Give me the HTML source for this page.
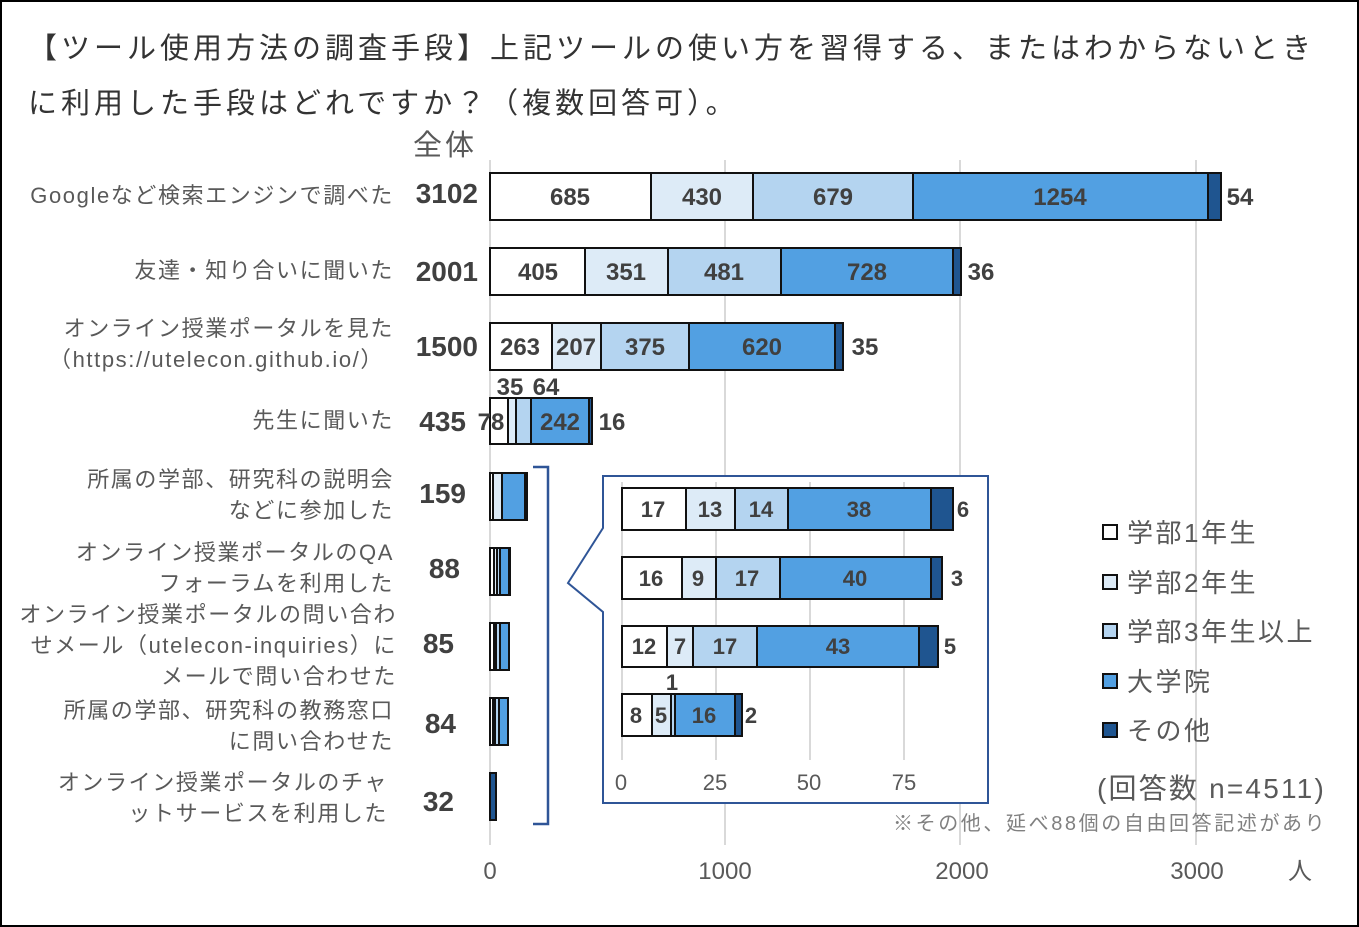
<!DOCTYPE html>
<html><head><meta charset="utf-8"><style>
html,body{margin:0;padding:0;background:#fff}
svg{display:block}
text{font-family:"Liberation Sans","Noto Sans CJK JP",sans-serif}
.t{font-size:29px;fill:#333;letter-spacing:4px}
.l{font-size:22px;fill:#595959;text-anchor:end;letter-spacing:1.6px}
.tot{font-size:28px;fill:#404040;text-anchor:end;font-weight:600}
.v{font-size:24px;fill:#404040;text-anchor:middle;font-weight:bold}
.iv{font-size:22px;fill:#404040;text-anchor:middle;font-weight:bold}
.ax{font-size:24px;fill:#595959;text-anchor:middle}
.lg{font-size:26px;fill:#595959;letter-spacing:2.5px}
rect.b{stroke:#111;stroke-width:2}
</style></head><body>
<svg width="1359" height="927" viewBox="0 0 1359 927">
<rect x="1" y="1" width="1357" height="925" fill="#fff" stroke="#000" stroke-width="2"/>
<text class="t" x="28" y="58">【ツール使用方法の調査手段】上記ツールの使い方を習得する、またはわからないとき</text>
<text class="t" x="28" y="113">に利用した手段はどれですか？（複数回答可）。</text>
<text x="413" y="155" style="font-size:29px;fill:#595959;letter-spacing:3px">全体</text>
<g stroke="#d9d9d9" stroke-width="2">
<line x1="490" y1="160" x2="490" y2="845"/><line x1="725" y1="160" x2="725" y2="845"/>
<line x1="960" y1="160" x2="960" y2="845"/><line x1="1196" y1="160" x2="1196" y2="845"/>
</g>
<text class="l" x="394" y="203">Googleなど検索エンジンで調べた</text>
<text class="l" x="394" y="278">友達・知り合いに聞いた</text>
<text class="l" x="394" y="336">オンライン授業ポータルを見た</text>
<text class="l" x="384" y="367">（https://utelecon.github.io/）</text>
<text class="l" x="394" y="428">先生に聞いた</text>
<text class="l" x="394" y="487">所属の学部、研究科の説明会</text>
<text class="l" x="394" y="518">などに参加した</text>
<text class="l" x="394" y="560">オンライン授業ポータルのQA</text>
<text class="l" x="394" y="591">フォーラムを利用した</text>
<text class="l" x="397" y="622">オンライン授業ポータルの問い合わ</text>
<text class="l" x="397" y="653">せメール（utelecon-inquiries）に</text>
<text class="l" x="397" y="684">メールで問い合わせた</text>
<text class="l" x="394" y="718">所属の学部、研究科の教務窓口</text>
<text class="l" x="394" y="749">に問い合わせた</text>
<text class="l" x="388" y="790">オンライン授業ポータルのチャ</text>
<text class="l" x="388" y="821">ットサービスを利用した</text>
<text class="tot" x="478" y="203">3102</text>
<text class="tot" x="478" y="281">2001</text>
<text class="tot" x="478" y="356">1500</text>
<text class="tot" x="466" y="431">435</text>
<text class="tot" x="466" y="503">159</text>
<text class="tot" x="460" y="578">88</text>
<text class="tot" x="454" y="653">85</text>
<text class="tot" x="456" y="733">84</text>
<text class="tot" x="454" y="811">32</text>
<g>
<rect class="b" x="490" y="173" width="161" height="47" fill="#fff"/>
<rect class="b" x="651" y="173" width="102" height="47" fill="#ddebf7"/>
<rect class="b" x="753" y="173" width="160" height="47" fill="#b4d4f0"/>
<rect class="b" x="913" y="173" width="295" height="47" fill="#52a0e2"/>
<rect class="b" x="1208" y="173" width="13" height="47" fill="#1f5590"/>
<text class="v" x="570" y="205">685</text><text class="v" x="702" y="205">430</text><text class="v" x="833" y="205">679</text><text class="v" x="1060" y="205">1254</text><text class="v" x="1240" y="205">54</text>

<rect class="b" x="490" y="248" width="95" height="47" fill="#fff"/>
<rect class="b" x="585" y="248" width="83" height="47" fill="#ddebf7"/>
<rect class="b" x="668" y="248" width="113" height="47" fill="#b4d4f0"/>
<rect class="b" x="781" y="248" width="172" height="47" fill="#52a0e2"/>
<rect class="b" x="953" y="248" width="8" height="47" fill="#1f5590"/>
<text class="v" x="538" y="280">405</text><text class="v" x="626" y="280">351</text><text class="v" x="724" y="280">481</text><text class="v" x="867" y="280">728</text><text class="v" x="981" y="280">36</text>

<rect class="b" x="490" y="323" width="62" height="47" fill="#fff"/>
<rect class="b" x="552" y="323" width="49" height="47" fill="#ddebf7"/>
<rect class="b" x="601" y="323" width="88" height="47" fill="#b4d4f0"/>
<rect class="b" x="689" y="323" width="146" height="47" fill="#52a0e2"/>
<rect class="b" x="835" y="323" width="8" height="47" fill="#1f5590"/>
<text class="v" x="520" y="355">263</text><text class="v" x="576" y="355">207</text><text class="v" x="645" y="355">375</text><text class="v" x="762" y="355">620</text><text class="v" x="865" y="355">35</text>

<rect class="b" x="490" y="398" width="18" height="46" fill="#fff"/>
<rect class="b" x="508" y="398" width="8" height="46" fill="#ddebf7"/>
<rect class="b" x="516" y="398" width="15" height="46" fill="#b4d4f0"/>
<rect class="b" x="531" y="398" width="58" height="46" fill="#52a0e2"/>
<rect class="b" x="589" y="398" width="3" height="46" fill="#1f5590"/>
<text class="v" x="491" y="430">78</text><text class="v" x="510" y="395">35</text><text class="v" x="546" y="395">64</text><text class="v" x="560" y="430">242</text><text class="v" x="612" y="430">16</text>

<rect class="b" x="490" y="473" width="3" height="47" fill="#fff"/>
<rect class="b" x="493" y="473" width="9" height="47" fill="#ddebf7"/>
<rect class="b" x="502" y="473" width="23" height="47" fill="#52a0e2"/>
<rect class="b" x="525" y="473" width="2" height="47" fill="#1f5590"/>

<rect class="b" x="490" y="548" width="4" height="47" fill="#fff"/>
<rect class="b" x="494" y="548" width="3" height="47" fill="#ddebf7"/>
<rect class="b" x="497" y="548" width="3" height="47" fill="#b4d4f0"/>
<rect class="b" x="500" y="548" width="9" height="47" fill="#52a0e2"/>
<rect class="b" x="509" y="548" width="1" height="47" fill="#1f5590"/>

<rect class="b" x="490" y="623" width="4" height="47" fill="#fff"/>
<rect class="b" x="494" y="623" width="2" height="47" fill="#ddebf7"/>
<rect class="b" x="496" y="623" width="4" height="47" fill="#b4d4f0"/>
<rect class="b" x="500" y="623" width="9" height="47" fill="#52a0e2"/>

<rect class="b" x="490" y="698" width="3" height="47" fill="#fff"/>
<rect class="b" x="493" y="698" width="2" height="47" fill="#ddebf7"/>
<rect class="b" x="495" y="698" width="4" height="47" fill="#b4d4f0"/>
<rect class="b" x="499" y="698" width="9" height="47" fill="#52a0e2"/>

<rect class="b" x="490" y="773" width="6" height="47" fill="#1f5590"/>
</g>
<path d="M533,467 H548 V824 H533" fill="none" stroke="#2f5597" stroke-width="2.5"/>
<path d="M603,476 H988 V803 H603 V612 L568,583 L603,528 Z" fill="#fff" stroke="#2f5597" stroke-width="2"/>
<g stroke="#d9d9d9" stroke-width="2">
<line x1="622" y1="482" x2="622" y2="760"/><line x1="716" y1="482" x2="716" y2="760"/>
<line x1="810" y1="482" x2="810" y2="760"/><line x1="904" y1="482" x2="904" y2="760"/>
</g>
<rect class="b" x="622" y="488" width="64" height="42" fill="#fff"/>
<rect class="b" x="686" y="488" width="49" height="42" fill="#ddebf7"/>
<rect class="b" x="735" y="488" width="53" height="42" fill="#b4d4f0"/>
<rect class="b" x="788" y="488" width="143" height="42" fill="#52a0e2"/>
<rect class="b" x="931" y="488" width="22" height="42" fill="#1f5590"/>
<text class="iv" x="653" y="517">17</text><text class="iv" x="710" y="517">13</text><text class="iv" x="761" y="517">14</text><text class="iv" x="859" y="517">38</text><text class="iv" x="963" y="517">6</text>

<rect class="b" x="622" y="557" width="60" height="42" fill="#fff"/>
<rect class="b" x="682" y="557" width="34" height="42" fill="#ddebf7"/>
<rect class="b" x="716" y="557" width="64" height="42" fill="#b4d4f0"/>
<rect class="b" x="780" y="557" width="151" height="42" fill="#52a0e2"/>
<rect class="b" x="931" y="557" width="11" height="42" fill="#1f5590"/>
<text class="iv" x="651" y="586">16</text><text class="iv" x="698" y="586">9</text><text class="iv" x="747" y="586">17</text><text class="iv" x="855" y="586">40</text><text class="iv" x="957" y="586">3</text>

<rect class="b" x="622" y="626" width="45" height="41" fill="#fff"/>
<rect class="b" x="667" y="626" width="26" height="41" fill="#ddebf7"/>
<rect class="b" x="693" y="626" width="64" height="41" fill="#b4d4f0"/>
<rect class="b" x="757" y="626" width="162" height="41" fill="#52a0e2"/>
<rect class="b" x="919" y="626" width="19" height="41" fill="#1f5590"/>
<text class="iv" x="644" y="654">12</text><text class="iv" x="680" y="654">7</text><text class="iv" x="725" y="654">17</text><text class="iv" x="838" y="654">43</text><text class="iv" x="950" y="654">5</text>

<rect class="b" x="622" y="694" width="30" height="42" fill="#fff"/>
<rect class="b" x="652" y="694" width="19" height="42" fill="#ddebf7"/>
<rect class="b" x="671" y="694" width="4" height="42" fill="#b4d4f0"/>
<rect class="b" x="675" y="694" width="60" height="42" fill="#52a0e2"/>
<rect class="b" x="735" y="694" width="7" height="42" fill="#1f5590"/>
<text class="iv" x="636" y="723">8</text><text class="iv" x="661" y="723">5</text><text class="iv" x="672" y="690">1</text><text class="iv" x="704" y="723">16</text><text class="iv" x="751" y="723">2</text>

<text class="ax" x="621" y="790" style="font-size:22px">0</text>
<text class="ax" x="715" y="790" style="font-size:22px">25</text>
<text class="ax" x="809" y="790" style="font-size:22px">50</text>
<text class="ax" x="904" y="790" style="font-size:22px">75</text>
<g stroke="#111" stroke-width="2">
<rect x="1103" y="525" width="14" height="14" fill="#fff"/>
<rect x="1103" y="575" width="14" height="14" fill="#ddebf7"/>
<rect x="1103" y="624" width="14" height="14" fill="#b4d4f0"/>
<rect x="1103" y="674" width="14" height="14" fill="#52a0e2"/>
<rect x="1103" y="723" width="14" height="14" fill="#1f5590"/>
</g>
<text class="lg" x="1127" y="542">学部1年生</text>
<text class="lg" x="1127" y="592">学部2年生</text>
<text class="lg" x="1127" y="641">学部3年生以上</text>
<text class="lg" x="1127" y="691">大学院</text>
<text class="lg" x="1127" y="740">その他</text>
<text x="1097" y="798" style="font-size:28px;fill:#595959;letter-spacing:2.2px">(回答数 n=4511)</text>
<text x="893" y="830" style="font-size:20px;fill:#808080;letter-spacing:2.6px">※その他、延べ88個の自由回答記述があり</text>
<text class="ax" x="490" y="879">0</text>
<text class="ax" x="725" y="879">1000</text>
<text class="ax" x="962" y="879">2000</text>
<text class="ax" x="1197" y="879">3000</text>
<text class="ax" x="1300" y="879">人</text>
</svg>
</body></html>
